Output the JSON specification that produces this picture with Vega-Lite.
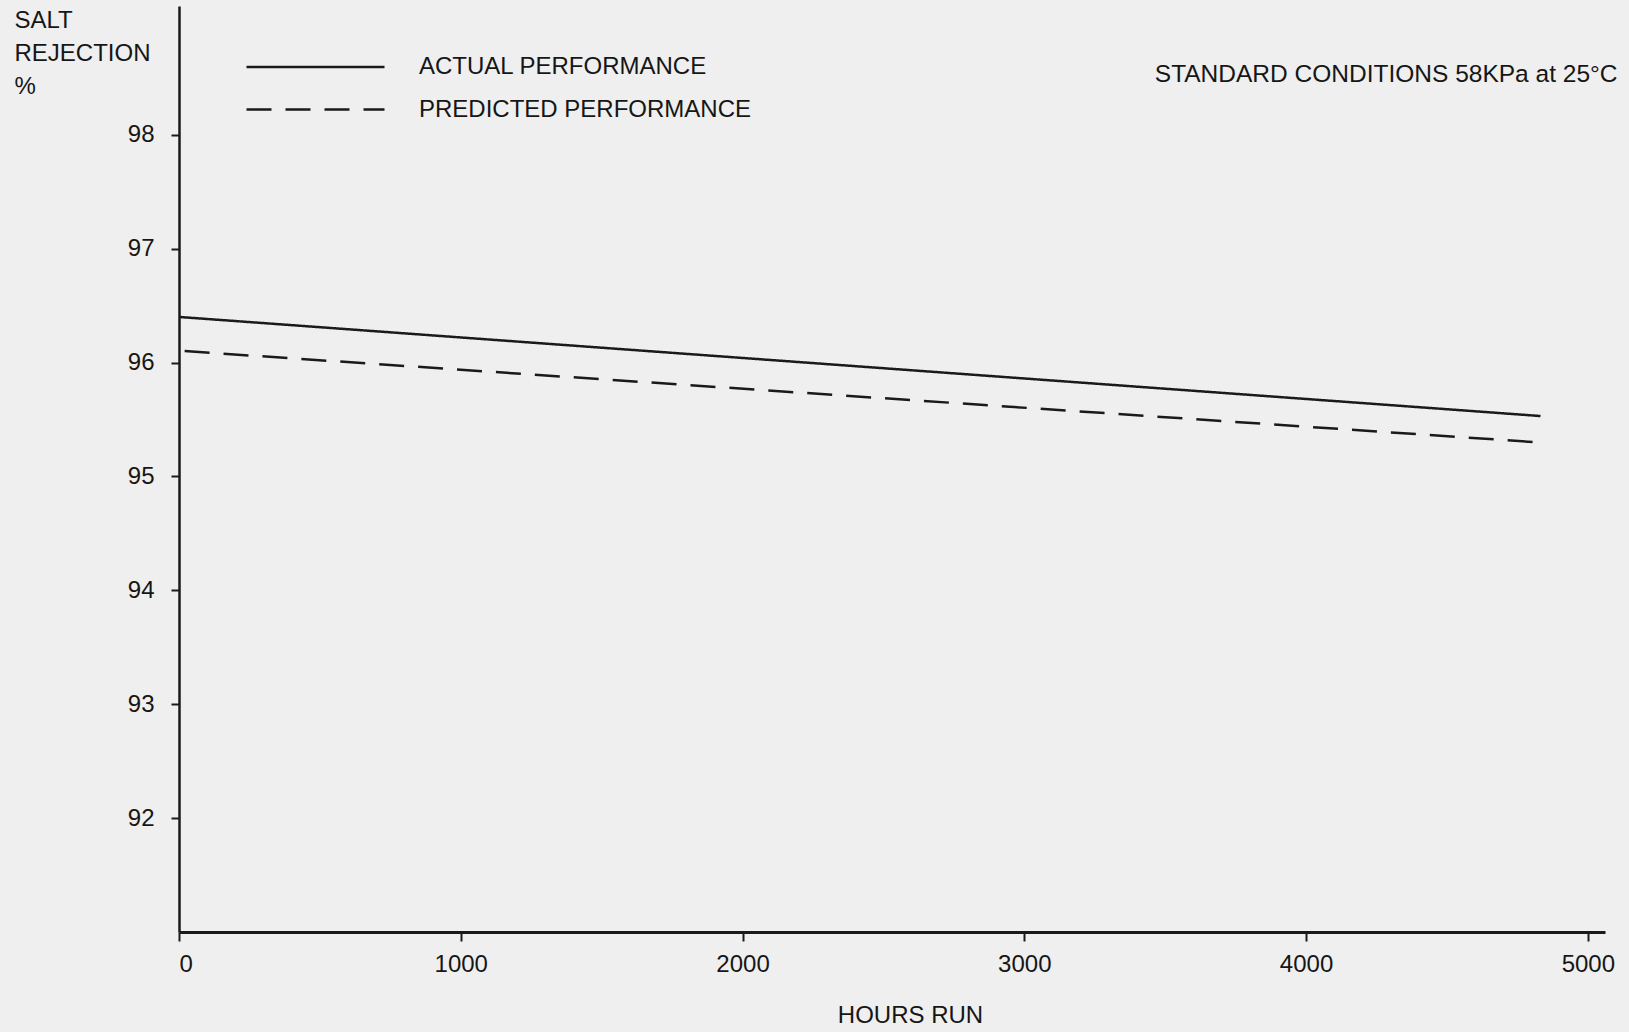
{
  "$schema": "https://vega.github.io/schema/vega-lite/v6.json",
  "width": 1426,
  "height": 926,
  "autosize": {"type": "none"},
  "padding": {"left": 179, "top": 6, "right": 24, "bottom": 100},
  "background": "#efefef",
  "title": {
    "text": "STANDARD CONDITIONS 58KPa at 25°C",
    "anchor": "end",
    "orient": "top",
    "offset": -93,
    "baseline": "middle",
    "fontSize": 24.5,
    "font": "Liberation Sans",
    "fontWeight": "normal",
    "color": "#161616",
    "dx": 3
  },
  "data": {
    "values": [
      {"hours": 0, "rejection": 96.40, "series": "ACTUAL PERFORMANCE"},
      {"hours": 4832, "rejection": 95.53, "series": "ACTUAL PERFORMANCE"},
      {"hours": 20, "rejection": 96.10, "series": "PREDICTED PERFORMANCE"},
      {"hours": 4818, "rejection": 95.30, "series": "PREDICTED PERFORMANCE"}
    ]
  },
  "mark": {"type": "line", "stroke": "#1a1a1a", "strokeWidth": 2.5},
  "encoding": {
    "x": {
      "field": "hours",
      "type": "quantitative",
      "scale": {"domain": [0, 5061], "nice": false, "zero": false},
      "axis": {
        "values": [0, 1000, 2000, 3000, 4000, 5000],
        "format": "d",
        "labelFlush": true,
        "labelFlushOffset": 0,
        "grid": false,
        "title": "HOURS RUN",
        "titleX": 731,
        "titleY": 83,
        "titleBaseline": "middle",
        "titleFontSize": 24,
        "titleFontWeight": "normal",
        "titleFont": "Liberation Sans",
        "titleColor": "#161616",
        "labelFontSize": 24,
        "labelFont": "Liberation Sans",
        "labelColor": "#161616",
        "tickSize": 9,
        "tickWidth": 2,
        "tickColor": "#1a1a1a",
        "labelPadding": 11,
        "domainColor": "#1a1a1a",
        "domainWidth": 3
      }
    },
    "y": {
      "field": "rejection",
      "type": "quantitative",
      "scale": {"domain": [91, 99.13], "nice": false, "zero": false},
      "axis": {
        "values": [92, 93, 94, 95, 96, 97, 98],
        "grid": false,
        "title": ["SALT", "REJECTION", "%"],
        "titleAngle": 0,
        "titleAlign": "left",
        "titleBaseline": "top",
        "titleX": -165,
        "titleY": 2,
        "titleLineHeight": 33,
        "titleFontSize": 24,
        "titleFontWeight": "normal",
        "titleFont": "Liberation Sans",
        "titleColor": "#161616",
        "labelFontSize": 24,
        "labelFont": "Liberation Sans",
        "labelColor": "#161616",
        "tickSize": 8,
        "tickWidth": 2,
        "tickColor": "#1a1a1a",
        "labelPadding": 17,
        "domainColor": "#1a1a1a",
        "domainWidth": 2.5
      }
    },
    "strokeDash": {
      "field": "series",
      "type": "nominal",
      "scale": {
        "domain": ["ACTUAL PERFORMANCE", "PREDICTED PERFORMANCE"],
        "range": [[1, 0], [25, 14]]
      },
      "legend": {
        "title": null,
        "orient": "none",
        "legendX": 66,
        "legendY": 49,
        "symbolType": "stroke",
        "symbolSize": 19044,
        "symbolStrokeWidth": 2.5,
        "symbolStrokeColor": "#1a1a1a",
        "clipHeight": 24,
        "rowPadding": 18.5,
        "labelOffset": 33,
        "labelFontSize": 24,
        "labelFont": "Liberation Sans",
        "labelColor": "#161616",
        "labelLimit": 0,
        "padding": 0
      }
    }
  },
  "config": {"view": {"stroke": null}}
}
